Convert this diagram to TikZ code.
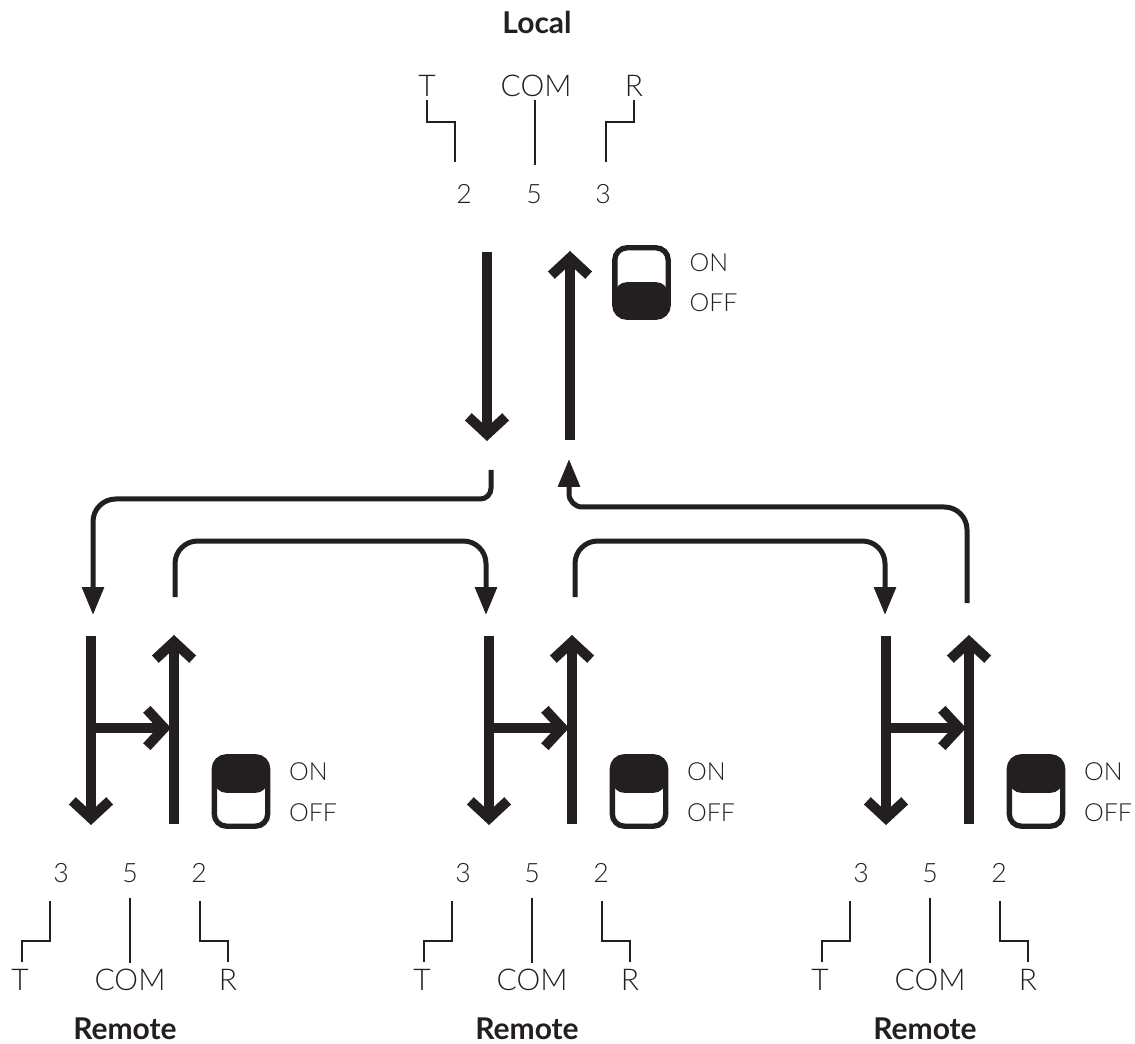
\documentclass[tikz,border=0pt]{standalone}
\usepackage{fontspec}
\setmainfont{Lato Light}[BoldFont=Lato Bold]
\usetikzlibrary{arrows.meta}
\definecolor{ink}{HTML}{231F20}
\tikzset{
    lbl/.style={inner sep=0pt,text=ink,font=\fontsize{22.5}{22.5}\selectfont},
    pin/.style={inner sep=0pt,text=ink,font=\fontsize{20}{20}\selectfont},
    sw/.style={inner sep=0pt,text=ink,font=\fontsize{18.7}{18.7}\selectfont},
    title/.style={inner sep=0pt,text=ink,font=\fontsize{22.5}{22.5}\selectfont\bfseries},
    wire/.style={draw=ink,line width=1.5pt},
    bus/.style={draw=ink,line width=7.5pt,-{Straight Barb[length=13pt,width=28pt,line width=7.5pt]}},
    link/.style={draw=ink,line width=3.75pt,-{Triangle[length=21pt,width=16pt]}},
    switchbox/.style={draw=ink,line width=4pt,rounded corners=9pt,minimum width=40pt,minimum height=52pt,inner sep=0pt}
}
\begin{document}
\begin{tikzpicture}[x=0.75pt,y=-0.75pt]
    \useasboundingbox (0,0) rectangle (1135,1044);
    % Local
    \node [title] (local) at (537,22) {Local};
    \node [lbl] (Tl) at (427,86) {T};
    \node [lbl] (COMl) at (536,86) {COM};
    \node [lbl] (Rl) at (634,86) {R};
    \node [pin] (txl) at (464,194) {2};
    \node [pin] (coml) at (534,194) {5};
    \node [pin] (rxl) at (603,194) {3};
    \node [sw] (onl) at (709,263) {ON};
    \node [sw] (offl) at (713.5,303) {OFF};
    \node [switchbox,path picture={\fill[ink] (path picture bounding box.south west) rectangle ([yshift=26.25pt]path picture bounding box.south east);}] (swl) at (641.5,282.5) {};
    \coordinate (downl) at (487,252);
    \coordinate (downlend) at (487,441);
    \coordinate (upl) at (570,440);
    \coordinate (uplend) at (570,251);
    \coordinate (outl) at (491,470);
    \coordinate (inl) at (569,459);

    % Local connections
    \draw [wire] (427,100) |- (455,122) -- (455,162);
    \draw [wire] (535,100) -- (535,165);
    \draw [wire] (634,100) |- (606,122) -- (606,162);
    \draw [bus] (downl) -- (downlend);
    \draw [bus] (upl) -- (uplend);

    % Remote units: number, bus shift, pin shift
    \foreach \u/\a/\p in {1/0/0,2/398/402,3/795/800}{
        \begin{scope}[shift={(\a*0.75pt,0)}]
            \coordinate (down\u) at (91,636);
            \coordinate (down\u end) at (91,825);
            \coordinate (up\u) at (174,824);
            \coordinate (up\u end) at (174,635);
            \coordinate (tap\u) at (91,728);
            \coordinate (tap\u end) at (171,728);
            \node [switchbox,path picture={\fill[ink] (path picture bounding box.north west) rectangle ([yshift=-27pt]path picture bounding box.north east);}] (sw\u) at (241,791.5) {};
            \node [sw] (on\u) at (308.5,772) {ON};
            \node [sw] (off\u) at (313,813) {OFF};
            \draw [bus] (down\u) -- (down\u end);
            \draw [bus] (up\u) -- (up\u end);
            \draw [bus] (tap\u) -- (tap\u end);
        \end{scope}
        \begin{scope}[shift={(\p*0.75pt,0)}]
            \node [pin] (tx\u) at (61,873) {3};
            \node [pin] (com\u) at (130,873) {5};
            \node [pin] (rx\u) at (199,873) {2};
            \node [lbl] (T\u) at (20,980) {T};
            \node [lbl] (COM\u) at (130,980) {COM};
            \node [lbl] (R\u) at (228,980) {R};
            \node [title] (remote\u) at (125,1029) {Remote};
            \draw [wire] (50,901) |- (22,941) -- (22,962);
            \draw [wire] (130,898) -- (130,963);
            \draw [wire] (200,901) |- (228,941) -- (228,962);
        \end{scope}
    }

    % Ring
    \coordinate (in1) at (93,615);
    \coordinate (in2) at (486,615);
    \coordinate (in3) at (885,615);
    \coordinate (out1) at (175,597);
    \coordinate (out2) at (575,597);
    \coordinate (out3) at (967,603);
    \draw [link] (outl) [rounded corners=8pt] -- (491,499) [rounded corners=17pt] -- (93,499) -- (in1);
    \draw [link,rounded corners=17pt] (out1) -- (175,541) -- (486,541) -- (in2);
    \draw [link,rounded corners=17pt] (out2) -- (575,541) -- (885,541) -- (in3);
    \draw [link] (out3) [rounded corners=17pt] -- (967,507) [rounded corners=10pt] -- (569,507) -- (inl);
\end{tikzpicture}
\end{document}
